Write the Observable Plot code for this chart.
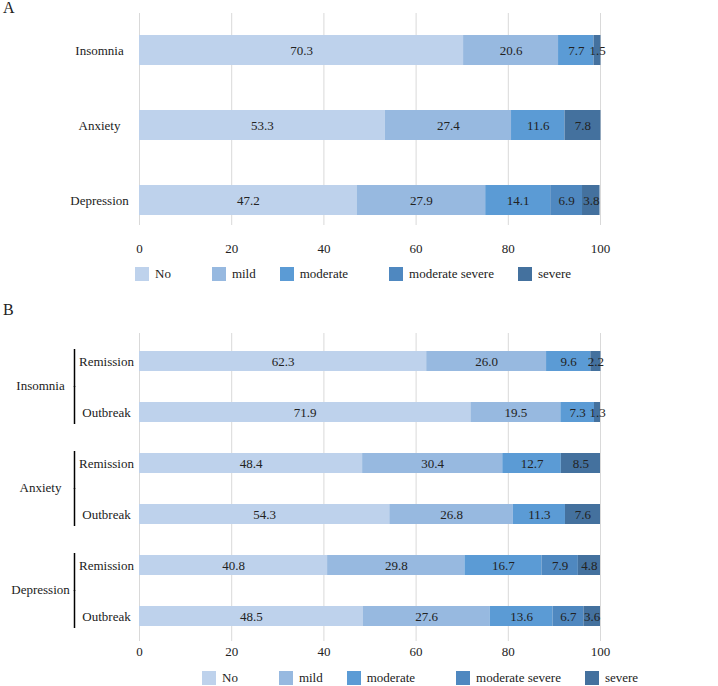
<!DOCTYPE html>
<html><head><meta charset="utf-8">
<script src="https://cdn.jsdelivr.net/npm/d3@7"></script>
<script src="https://cdn.jsdelivr.net/npm/@observablehq/plot@0.6"></script>
<style>
body{margin:0;background:#fff;font-family:"Liberation Serif","Times New Roman",serif;color:#222;}
#wrap{width:718px;position:relative;}
.panel{position:relative;}
.plabel{position:absolute;left:3px;font-size:16px;line-height:16px;}
.legend{display:flex;align-items:flex-start;font-size:13px;}
.legend .item{display:flex;align-items:center;}
.legend .sw{width:14px;height:14px;margin-right:6px;}
.legend .item:nth-child(odd){margin-right:41px}
.legend .item:nth-child(even){margin-right:24px}
svg{display:block}
</style></head>
<body><div id="wrap"></div>
<script>
// ---------- data ----------
const levels = ["No", "mild", "moderate", "moderate severe", "severe"];
const levelColors = ["#bed2ec", "#97b9e0", "#5b9bd5", "#4f88c0", "#44719e"];
const xTicks = [0, 20, 40, 60, 80, 100];

// Panel A
const categoriesA = ["Insomnia", "Anxiety", "Depression"];
const noA = [70.3, 53.3, 47.2];
const mildA = [20.6, 27.4, 27.9];
const moderateA = [7.7, 11.6, 14.1];
const modSevereA = [null, null, 6.9];
const severeA = [1.5, 7.8, 3.8];

// Panel B
const groupsB = ["Insomnia", "Anxiety", "Depression"];
const phasesB = ["Remission", "Outbreak"];
const noB = [62.3, 71.9, 48.4, 54.3, 40.8, 48.5];
const mildB = [26.0, 19.5, 30.4, 26.8, 29.8, 27.6];
const moderateB = [9.6, 7.3, 12.7, 11.3, 16.7, 13.6];
const modSevereB = [null, null, null, null, 7.9, 6.7];
const severeB = [2.2, 1.3, 8.5, 7.6, 4.8, 3.6];

// ---------- build tables ----------
function buildRows(rowKeys, series) {
  return rowKeys.flatMap((r, i) =>
    levels.map((l, j) => ({row: r, level: l, value: series[j][i]}))
  ).filter(d => d.value != null);
}
const rowsA = buildRows(categoriesA, [noA, mildA, moderateA, modSevereA, severeA]);
const keysB = groupsB.flatMap(g => phasesB.map(p => g + "|" + p));
const rowsB = buildRows(keysB, [noB, mildB, moderateB, modSevereB, severeB]);

const fontStyle = {fontFamily: '"Liberation Serif","Times New Roman",serif', fontSize: "13px", color: "#222", background: "transparent", overflow: "visible"};

const wrap = document.getElementById("wrap");

function legend(marginLeft, padTop, h) {
  const d = document.createElement("div");
  d.className = "legend";
  d.style.paddingLeft = marginLeft + "px";
  d.style.paddingTop = padTop + "px";
  d.style.height = h + "px";
  levels.forEach((l, i) => {
    const it = document.createElement("div");
    it.className = "item";
    const sw = document.createElement("div");
    sw.className = "sw";
    sw.style.background = levelColors[i];
    const t = document.createElement("span");
    t.textContent = l;
    t.style.lineHeight = "14px";
    it.appendChild(sw); it.appendChild(t);
    d.appendChild(it);
  });
  return d;
}

// ---------- Panel A ----------
const panelA = document.createElement("div");
panelA.className = "panel";
const labA = document.createElement("div");
labA.className = "plabel"; labA.style.top = "0px"; labA.textContent = "A";
const chartA = Plot.plot({
  width: 718, height: 262,
  marginTop: 13, marginBottom: 37, marginLeft: 139, marginRight: 118,
  style: fontStyle,
  x: {domain: [0, 100], axis: null},
  y: {domain: categoriesA, axis: null, paddingInner: 0.6, paddingOuter: 0.213, align: 0.69},
  color: {domain: levels, range: levelColors},
  marks: [
    Plot.gridX(xTicks, {stroke: "#d9d9d9", strokeOpacity: 1}),
    Plot.barX(rowsA, Plot.stackX({x: "value", y: "row", fill: "level"})),
    Plot.text(rowsA, Plot.stackX({x: "value", y: "row", text: d => d.value.toFixed(1), fill: "#222"})),
    Plot.axisX(xTicks, {tickSize: 0, tickPadding: 18, fill: "#222", label: null}),
    Plot.axisY({tickSize: 0, tickPadding: 40, textAnchor: "middle", fill: "#222", label: null})
  ]
});
panelA.appendChild(chartA);
panelA.appendChild(labA);
wrap.appendChild(panelA);
wrap.appendChild(legend(135, 5, 21));

// ---------- Panel B ----------
const panelB = document.createElement("div");
panelB.className = "panel";
const labB = document.createElement("div");
labB.className = "plabel"; labB.style.top = "14px"; labB.textContent = "B";
const remKeys = keysB.filter(k => k.endsWith("|Remission"));
const outKeys = keysB.filter(k => k.endsWith("|Outbreak"));
const chartB = Plot.plot({
  width: 718, height: 372,
  marginTop: 45, marginBottom: 19, marginLeft: 139, marginRight: 118,
  style: fontStyle,
  x: {domain: [0, 100], axis: null},
  y: {domain: keysB, axis: null, paddingInner: 0.612, paddingOuter: 0.29, align: 0.53},
  color: {domain: levels, range: levelColors},
  marks: [
    Plot.gridX(xTicks, {stroke: "#d9d9d9", strokeOpacity: 1}),
    Plot.barX(rowsB, Plot.stackX({x: "value", y: "row", fill: "level"})),
    Plot.text(rowsB, Plot.stackX({x: "value", y: "row", text: d => d.value.toFixed(1), fill: "#222"})),
    Plot.axisX(xTicks, {tickSize: 0, tickPadding: 5, fill: "#222", label: null}),
    Plot.axisY({tickSize: 0, tickPadding: 33, textAnchor: "middle", fill: "#222", label: null, tickFormat: d => d.split("|")[1]}),
    Plot.text(groupsB, {y: d => d + "|Remission", text: d => d, frameAnchor: "left", dx: -99, dy: 24, textAnchor: "middle", fill: "#222"}),
    Plot.ruleX(remKeys, {x: () => 0, y1: d => d, y2: d => d, dx: -65, insetTop: -2, insetBottom: -16, stroke: "#000", strokeWidth: 1.5}),
    Plot.ruleX(outKeys, {x: () => 0, y1: d => d, y2: d => d, dx: -65, insetTop: -16, insetBottom: -2, stroke: "#000", strokeWidth: 1.5})
  ]
});
panelB.appendChild(chartB);
panelB.appendChild(labB);
wrap.appendChild(panelB);
wrap.appendChild(legend(202, 11, 15));
</script>
</body></html>
